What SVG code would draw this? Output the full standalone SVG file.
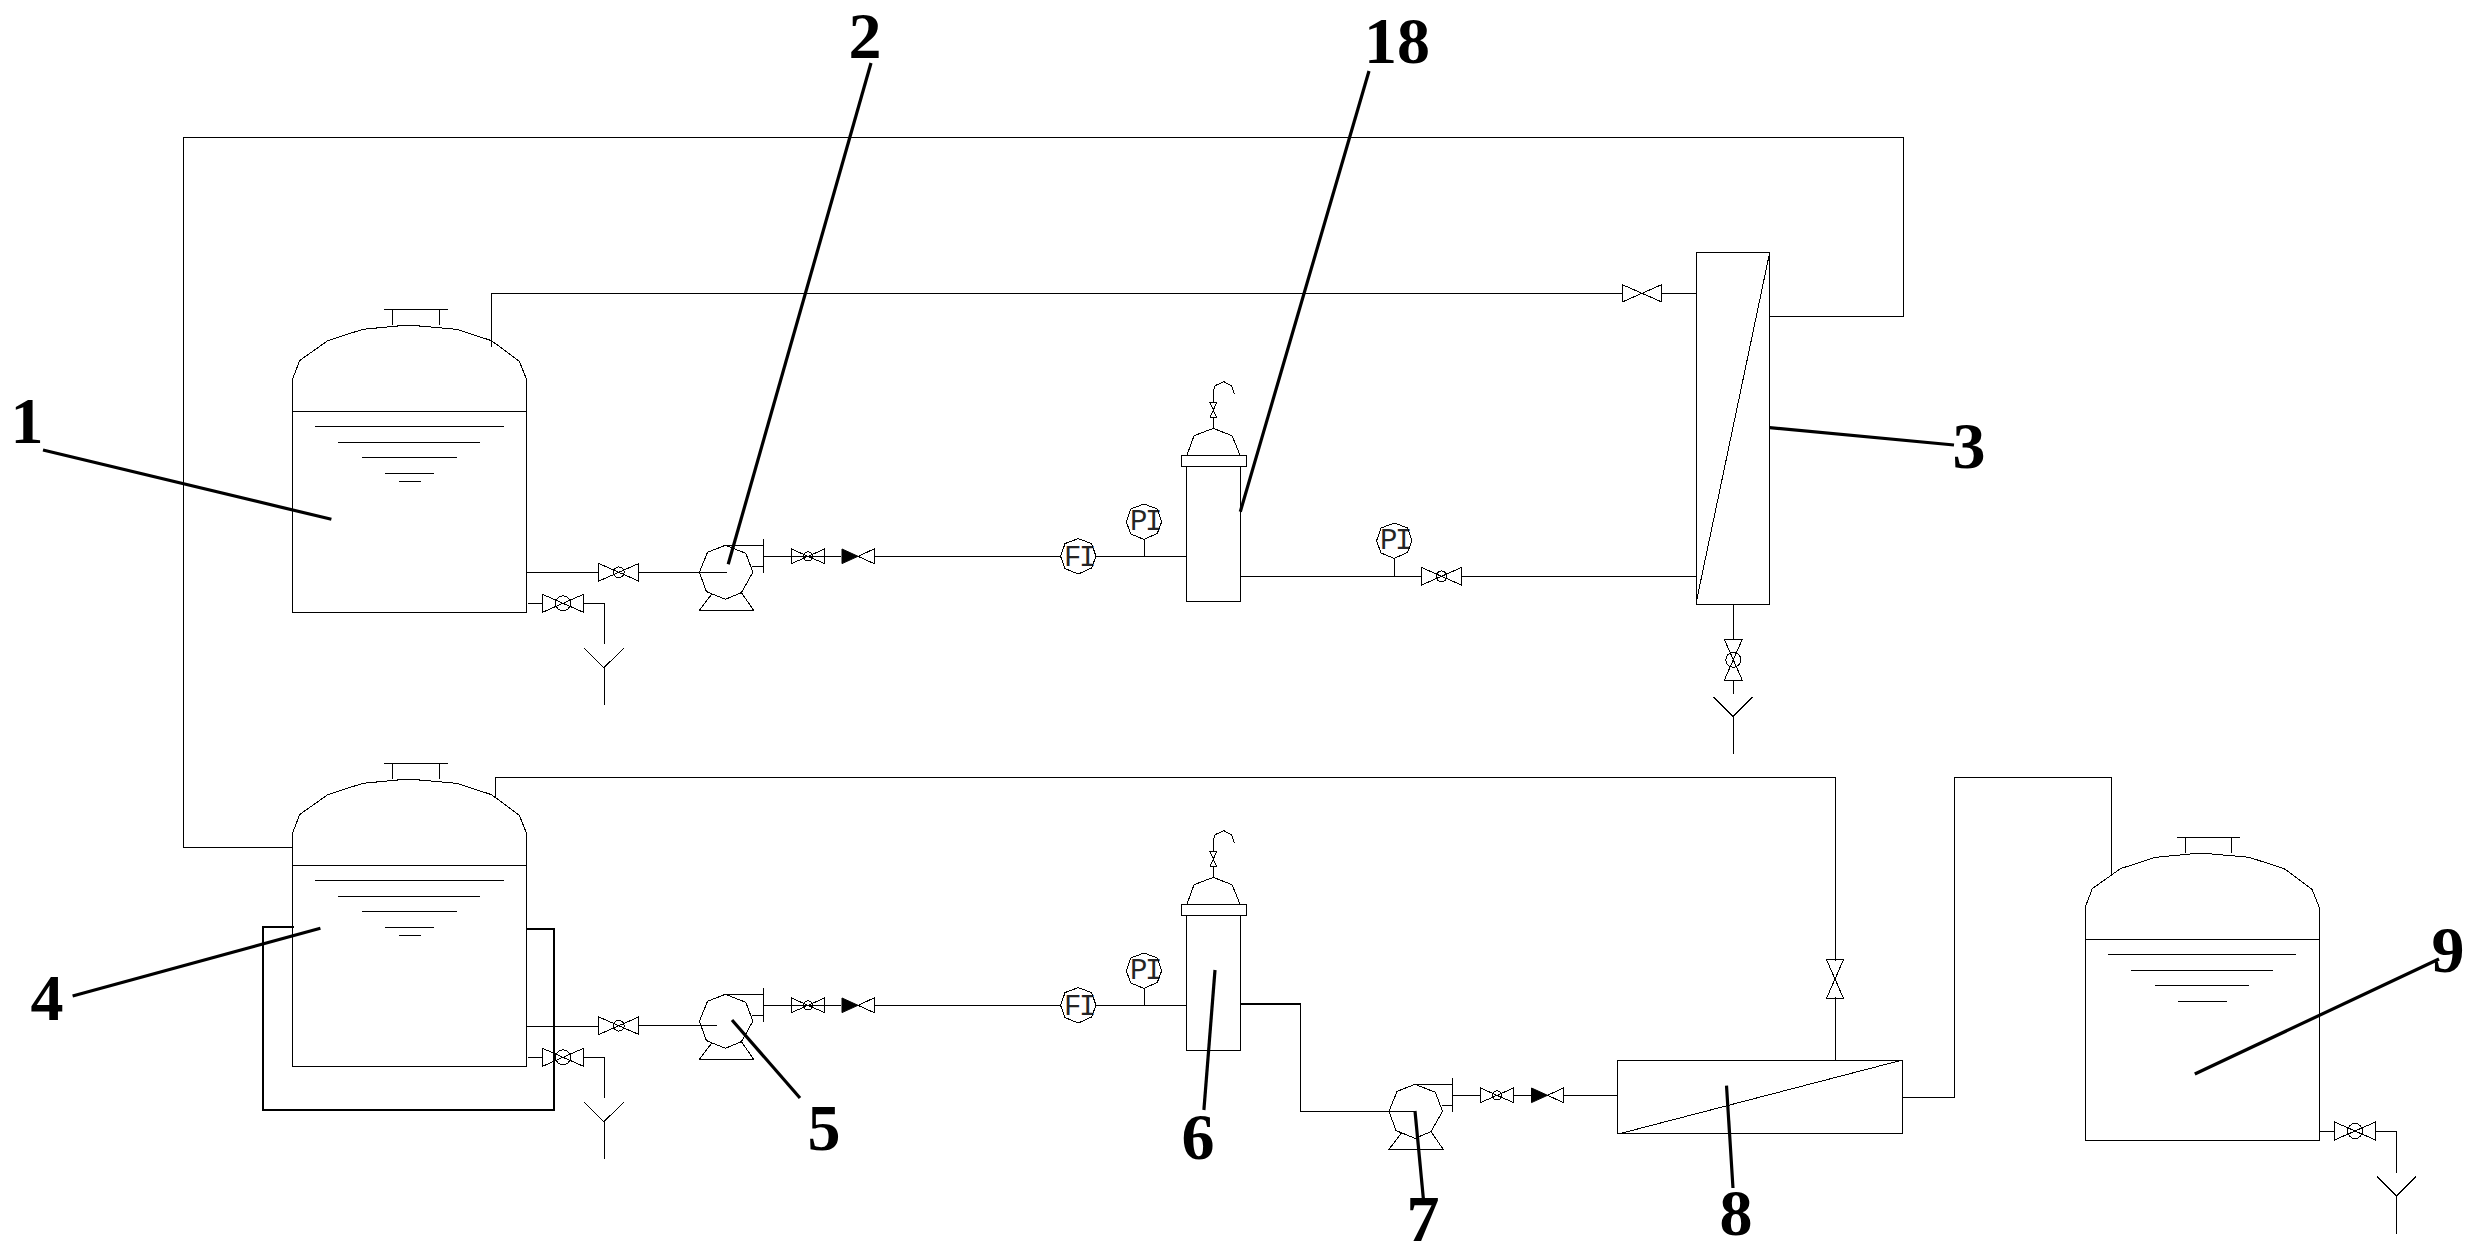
<svg xmlns="http://www.w3.org/2000/svg" width="2475" height="1256" viewBox="0 0 2475 1256">
<style>
.s{fill:none;stroke:#000;stroke-width:1;shape-rendering:crispEdges}
.j{fill:none;stroke:#000;stroke-width:2;shape-rendering:crispEdges}
.l{fill:none;stroke:#000;stroke-width:3.2;stroke-linecap:butt}
.n{font-family:"Liberation Serif",serif;font-weight:700;font-size:66px;fill:#000;text-anchor:middle}
.i{font-family:"Liberation Mono",monospace;font-size:29px;fill:#000;letter-spacing:-2.4px;text-anchor:middle;opacity:.85}
</style>
<defs>
<g id="tank-body" class="s">
<path d="M0 0V201.700H234V0ZM0 0V-32L7.100-50.700 35.400-70.700 70.400-82 115.700-86.300 163.900-82 198.900-70.700 226.800-50 234-32V0"/>
<path d="M100-86V-102M146.800-86V-102M91.400-102H155M22.500 15H211M45.400 31H187.500M69.600 46H164.300M92.500 62H141.400"/>
</g>
<g id="valve-c"><path class="s" d="M-19.800-8.700L19.800 8.700V-8.700L-19.800 8.700Z"/><circle class="s" r="5.400"/></g>
<g id="valve-d"><path class="s" d="M-20.500-9L20.500 9V-9L-20.500 9Z"/><circle class="s" r="7.500"/></g>
<g id="valve-s"><path class="s" d="M-16.500-7.300L16.500 7.300V-7.300L-16.500 7.300Z"/><circle class="s" r="4.500"/></g>
<g id="valve-g"><path class="s" d="M-19.800-8.700L19.800 8.700V-8.700L-19.800 8.700Z"/></g>
<g id="check"><path class="s" d="M0 0L16-7.300V7.300Z"/><path d="M-16-7.300L0 0-16 7.300Z" fill="#000" stroke="#000"/></g>
<g id="pump"><path class="s" d="M0-27L20.400-19 27.500 0 16 20.300 0 27-19 19.300-26 0-17.900-20ZM-13.600 21.700L-26 38H28.200L16 20.300M0-27H37.900M27-5.700H37.900M37.900-33.300V.3M37.900-16H66"/></g>
<g id="drain"><path class="s" d="M-19.500 0L0 19.400 19.500 0M0 19.400V57"/></g>
<g id="instrument"><path class="s" d="M0-17.700L13.300-12.700 17.700 0 13.300 11.700 0 17.700-13.300 12.300-17.700 0-13.300-12.700Z"/></g>
<g id="filter"><path class="s" d="M0 0H54V134.600H0ZM-5-11.400H60.400V0H-5ZM.7-11.700L7.700-31 27-38.300 45.700-31 53.700-11.700M27-38.300V-49M27-64.300V-75L28.700-81 37.700-85 45.300-80.700 48-72.700M23.700-64.300H30.300L23.700-49H30.300Z"/></g>
</defs>

<g id="connectors">
<path class="s" d="M491.400 346.700V293.300H1622M1662 293.300H1696"/>
<path class="s" d="M292.500 847.300H183V137H1903V316H1769.700"/>
<path class="s" d="M526.800 572.300H599M638.600 572.300H726.800"/>
<path class="s" d="M527.900 603.300H542.500M583.600 603.300H604.300V644.300"/>
<path class="s" d="M791.500 556.300H841M874 556.300H1060M1096 556.300H1186.300M1144 539.400V556.300"/>
<path class="s" d="M1240.300 576.300H1421.700M1461.300 576.300H1696.300M1394.300 558.400V576.300"/>
<path class="s" d="M1733.300 604.300V639.300M1733.300 680.300V693.700"/>
<path class="s" d="M495.400 796.700V777.300H1835V961M1835 997V1060"/>
<path class="s" d="M526.400 1026.300H599M638.600 1025.300H716.800"/>
<path class="s" d="M527.900 1057.300H542.500M583.600 1057.300H604.300V1098.300"/>
<path class="s" d="M791.500 1005.300H841M874 1005.300H1060M1096 1005.300H1186.300M1144 988.400V1005.300"/>
<path class="j" d="M1240.300 1004.300H1301.400"/>
<path class="s" d="M1300.400 1004.300V1111.300H1415"/>
<path class="s" d="M1513.600 1095.300H1531.400M1563.600 1095.300H1617.500"/>
<path class="s" d="M1902.600 1097.300H1954.600V777.300H2111.200V875"/>
<path class="s" d="M2319.900 1131H2334.200M2375.600 1131H2396.500V1173.300"/>
</g>

<g id="node-1"><use href="#tank-body" x="292.500" y="411.300"/><path class="s" d="M399 481.300H421"/></g>
<g id="node-4"><use href="#tank-body" x="292.500" y="865.300"/><path class="s" d="M399 935.300H421"/><path class="j" d="M293.600 926.700H262.900V1110H553.900V929H525.700"/></g>
<g id="node-9"><use href="#tank-body" x="2085.200" y="939.300"/></g>
<g id="node-2"><use href="#pump" x="725.400" y="572.300"/></g>
<g id="node-5"><use href="#pump" x="725.400" y="1021.300"/></g>
<g id="node-7"><use href="#pump" x="1415" y="1111.300"/></g>
<g id="node-18"><use href="#filter" x="1186.300" y="466.700"/></g>
<g id="node-6"><use href="#filter" x="1186.300" y="915.700"/></g>
<g id="node-3"><rect class="s" x="1696.300" y="252.500" width="73.400" height="351.800"/><path class="s" d="M1696.700 600L1769.700 252.500"/></g>
<g id="node-8"><rect class="s" x="1617.500" y="1060" width="285" height="73.300"/><path class="s" d="M1621 1133.300L1902.500 1060"/></g>

<g id="valves">
<use href="#valve-c" x="618.800" y="572.300"/>
<use href="#valve-d" x="563" y="603.300"/>
<use href="#drain" x="604" y="648.300"/>
<use href="#valve-s" x="808" y="556.300"/>
<use href="#check" x="858" y="556.300"/>
<use href="#valve-c" x="1441.500" y="576.300"/>
<use href="#valve-g" x="1642" y="293.300"/>
<use href="#valve-d" transform="translate(1733.300 659.800) rotate(90)"/>
<use href="#drain" x="1733" y="697"/>
<use href="#valve-c" x="618.800" y="1025.700"/>
<use href="#valve-d" x="563" y="1057.300"/>
<use href="#drain" x="604" y="1102.300"/>
<use href="#valve-s" x="808" y="1005.300"/>
<use href="#check" x="858" y="1005.300"/>
<use href="#valve-s" x="1497" y="1095.300"/>
<use href="#check" x="1547.500" y="1095.300"/>
<use href="#valve-g" transform="translate(1835 979) rotate(90)"/>
<use href="#valve-d" x="2355" y="1131"/>
<use href="#drain" x="2396.500" y="1176.700"/>
</g>

<g id="instruments">
<g id="fi-1"><use href="#instrument" x="1078.300" y="556.300"/><text class="i" x="1079" y="566">FI</text></g>
<g id="pi-1"><use href="#instrument" x="1144" y="521.700"/><text class="i" x="1145" y="530">PI</text></g>
<g id="pi-2"><use href="#instrument" x="1394.300" y="540.700"/><text class="i" x="1395" y="549">PI</text></g>
<g id="fi-2"><use href="#instrument" x="1078.300" y="1005.300"/><text class="i" x="1079" y="1015">FI</text></g>
<g id="pi-3"><use href="#instrument" x="1144" y="970.700"/><text class="i" x="1145" y="979">PI</text></g>
</g>

<g id="leaders">
<path class="l" d="M43 450L331.400 519.300"/>
<path class="l" d="M871 63L728.200 564.300"/>
<path class="l" d="M1369 71L1240.300 511.700"/>
<path class="l" d="M1769.700 427.600L1954 445"/>
<path class="l" d="M72.600 996L320.400 928.300"/>
<path class="l" d="M800 1098L732 1020"/>
<path class="l" d="M1215 970L1203.900 1110"/>
<path class="l" d="M1415 1111L1423.400 1199"/>
<path class="l" d="M1726.500 1085.600L1733 1188"/>
<path class="l" d="M2194.800 1074L2439 959"/>
</g>

<g id="labels">
<text class="n" x="27" y="443">1</text>
<text class="n" x="865" y="58">2</text>
<text class="n" x="1397" y="63">18</text>
<text class="n" x="1969" y="468">3</text>
<text class="n" x="47" y="1020">4</text>
<text class="n" x="824" y="1150">5</text>
<text class="n" x="1198" y="1159">6</text>
<text class="n" x="1423" y="1241">7</text>
<text class="n" x="1736" y="1235">8</text>
<text class="n" x="2448" y="972">9</text>
</g>
</svg>
